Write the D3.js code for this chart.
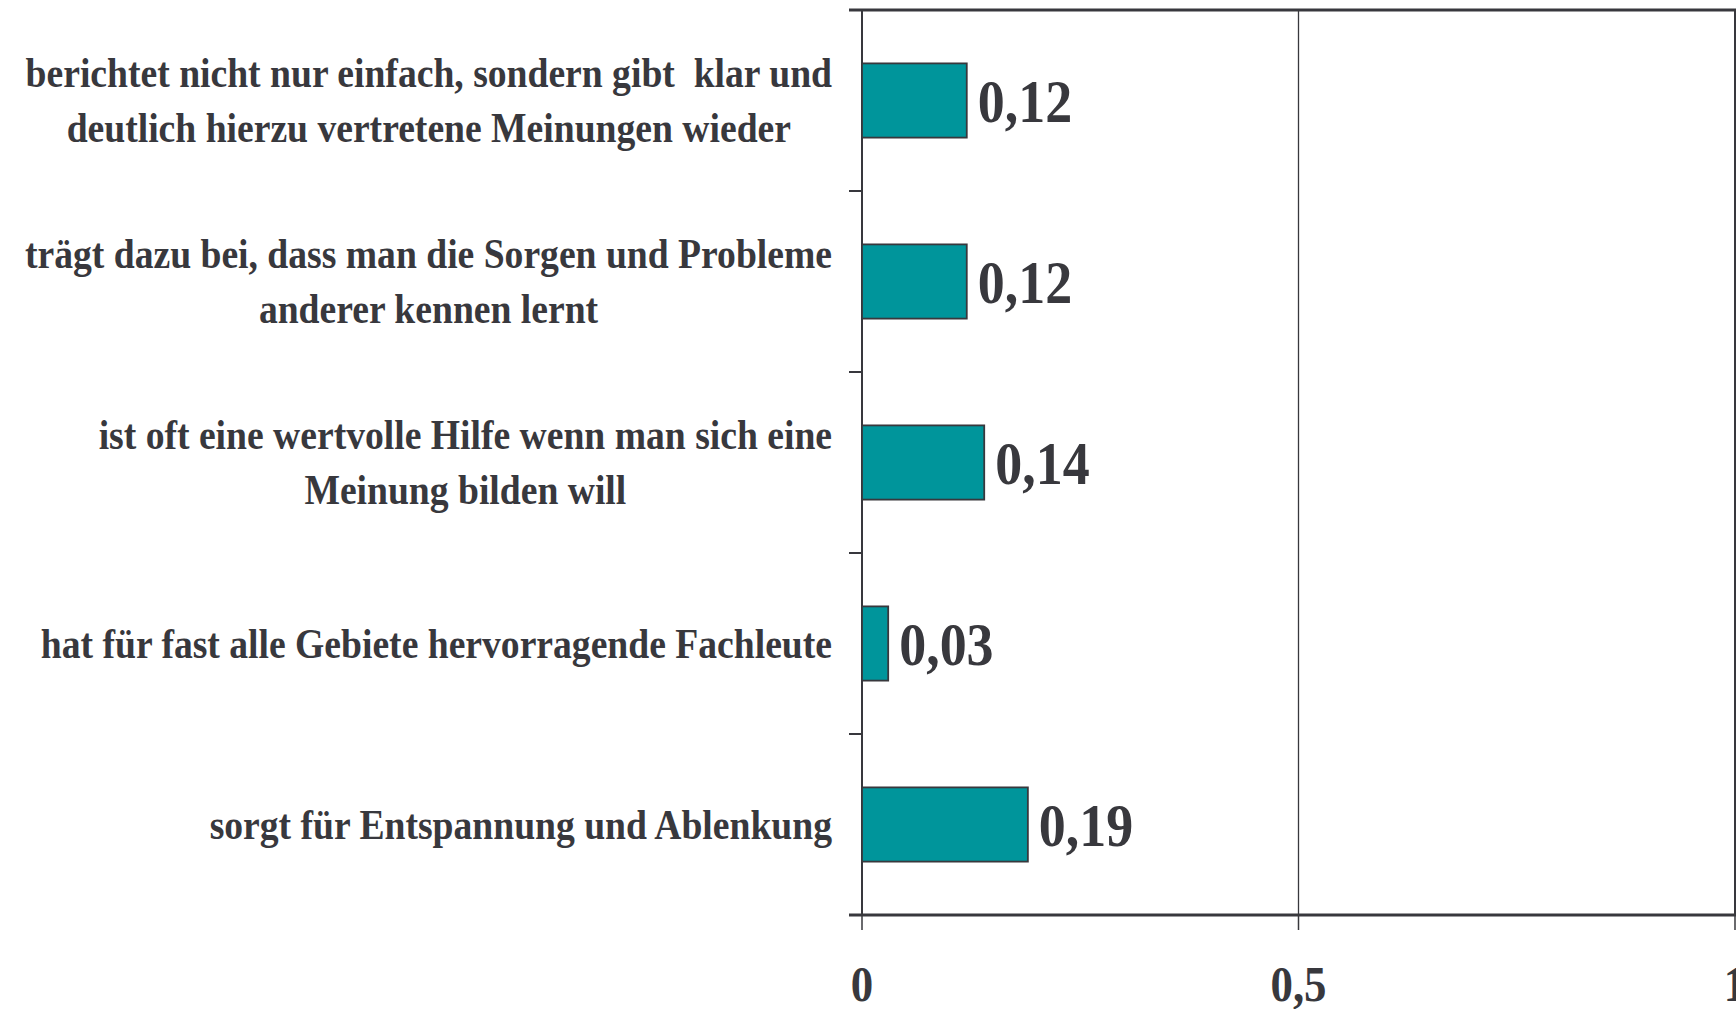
<!DOCTYPE html>
<meta charset="utf-8">
<style>
  body { margin: 0; background: #fff; }
  text { font-family: "Liberation Serif", "Times New Roman", serif; font-weight: bold; fill: #38383d; white-space: pre; }
</style>
<svg width="1736" height="1009"></svg>
<script src="https://d3js.org/d3.v7.min.js"></script>
<script>
// category labels, one array entry per line
var categories = [
  ["berichtet nicht nur einfach, sondern gibt  klar und", "deutlich hierzu vertretene Meinungen wieder"],
  ["trägt dazu bei, dass man die Sorgen und Probleme", "anderer kennen lernt"],
  ["ist oft eine wertvolle Hilfe wenn man sich eine", "Meinung bilden will"],
  ["hat für fast alle Gebiete hervorragende Fachleute"],
  ["sorgt für Entspannung und Ablenkung"]
]
var values = [0.12, 0.12, 0.14, 0.03, 0.19]
var xTicks = [0, 0.5, 1]
var xTickLabels = ["0", "0,5", "1"]

var fmt = function (v) { return String(v).replace(".", ",") }

var svg = d3.select("svg")
var plotLeft = 862, plotRight = 1735, plotTop = 10, plotBottom = 915

var x = d3.scaleLinear().domain([0, 1]).range([plotLeft, plotRight])
var y = d3.scaleBand()
  .domain(d3.range(categories.length))
  .range([plotTop, plotBottom])
  .paddingInner(0.59)
  .paddingOuter(0.295)

var step = y.step()
var dark = "#38383d"

// gridline at 0,5
svg.append("line")
  .attr("x1", x(0.5)).attr("x2", x(0.5))
  .attr("y1", plotTop).attr("y2", plotBottom)
  .attr("stroke", dark).attr("stroke-width", 1.3)

// right border
svg.append("line")
  .attr("x1", x(1)).attr("x2", x(1))
  .attr("y1", plotTop - 1).attr("y2", plotBottom)
  .attr("stroke", dark).attr("stroke-width", 2)

// top border (extends left like a tick)
svg.append("line")
  .attr("x1", plotLeft - 13).attr("x2", 1736)
  .attr("y1", plotTop).attr("y2", plotTop)
  .attr("stroke", dark).attr("stroke-width", 3)

// y axis ticks between categories
var bounds = d3.range(1, categories.length).map(function (i) { return plotTop + i * step })
svg.append("g").selectAll("line")
  .data(bounds)
  .enter().append("line")
    .attr("x1", plotLeft - 13).attr("x2", plotLeft)
    .attr("y1", function (d) { return d }).attr("y2", function (d) { return d })
    .attr("stroke", dark).attr("stroke-width", 2)

// y axis line
svg.append("line")
  .attr("x1", plotLeft).attr("x2", plotLeft)
  .attr("y1", plotTop).attr("y2", plotBottom)
  .attr("stroke", dark).attr("stroke-width", 2)

// bars
svg.append("g").selectAll("rect")
  .data(values)
  .enter().append("rect")
    .attr("x", x(0))
    .attr("y", function (d, i) { return y(i) })
    .attr("width", function (d) { return x(d) - x(0) })
    .attr("height", y.bandwidth())
    .attr("fill", "#00959b")
    .attr("stroke", dark)
    .attr("stroke-width", 1.8)

// value labels
svg.append("g").selectAll("text")
  .data(values)
  .enter().append("text")
    .attr("transform", function (d, i) {
      return "translate(" + (x(d) + 11) + "," + (y(i) + y.bandwidth() / 2 + 21) + ") scale(0.87,1)"
    })
    .attr("font-size", 62)
    .text(fmt)

// bottom axis
svg.append("line")
  .attr("x1", plotLeft - 13).attr("x2", 1736)
  .attr("y1", plotBottom).attr("y2", plotBottom)
  .attr("stroke", dark).attr("stroke-width", 3)

svg.append("g").selectAll("line")
  .data(xTicks)
  .enter().append("line")
    .attr("x1", function (d) { return x(d) }).attr("x2", function (d) { return x(d) })
    .attr("y1", plotBottom).attr("y2", plotBottom + 15)
    .attr("stroke", dark).attr("stroke-width", 1.5)

svg.append("g").selectAll("text")
  .data(xTicks)
  .enter().append("text")
    .attr("transform", function (d) { return "translate(" + x(d) + "," + 1001 + ") scale(0.88,1)" })
    .attr("text-anchor", "middle")
    .attr("font-size", 51)
    .text(function (d, i) { return xTickLabels[i] })

// category labels: block right-aligned, lines centred in block
var labelRight = 832, lineH = 56, catSize = 43, sx = 0.875
var cat = svg.append("g").selectAll("g")
  .data(categories)
  .enter().append("g")
    .attr("transform", function (d, i) {
      var cy = y(i) + y.bandwidth() / 2 + 14 - (d.length - 1) * lineH / 2
      return "translate(" + labelRight + "," + cy + ") scale(" + sx + ",1)"
    })

cat.each(function (lines) {
  var g = d3.select(this)
  var ts = lines.map(function (l, j) {
    return g.append("text")
      .attr("font-size", catSize)
      .attr("y", j * lineH)
      .attr("text-anchor", "middle")
      .text(l)
  })
  var w = d3.max(ts, function (t) { return t.node().getComputedTextLength() })
  ts.forEach(function (t) { t.attr("x", -w / 2) })
})
</script>
